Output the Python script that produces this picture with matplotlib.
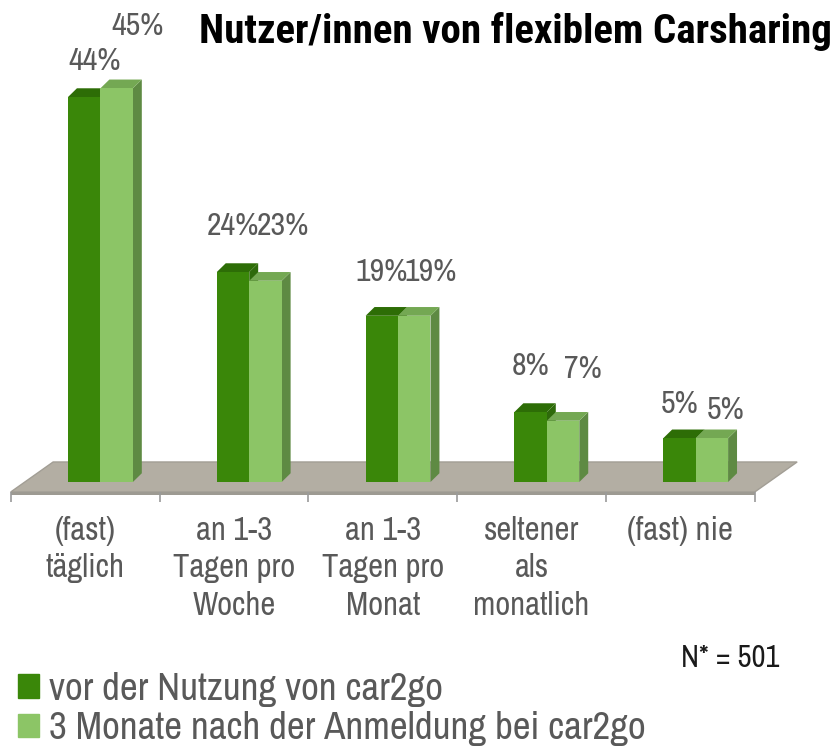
import numpy as np
import matplotlib.pyplot as plt
from matplotlib.patches import Polygon, Patch

categories = ['(fast)\ntäglich', 'an 1-3\nTagen pro\nWoche', 'an 1-3\nTagen pro\nMonat',
              'seltener\nals\nmonatlich', '(fast) nie']
before = [44, 24, 19, 8, 5]
after = [45, 23, 19, 7, 5]
series = ['vor der Nutzung von car2go', '3 Monate nach der Anmeldung bei car2go']

# nudges for the value labels (category units / percent points)
lab_dx_before = [0.07, 0, 0, 0, 0]
lab_dy_before = [4.1, 5.3, 5.0, 5.3, 3.9]
lab_dx_after = [0.14, 0.12, 0.11, 0.13, 0.09]
lab_dy_after = [7.1, 6.3, 5.0, 5.9, 3.2]

plt.rcParams['font.family'] = ['Archivo Narrow', 'Roboto Condensed', 'DejaVu Sans']

fig = plt.figure(figsize=(8.4, 7.48), dpi=100)
ax = fig.add_axes([0, 0, 1, 1])
ax.set_xlim(-0.072, 5.573)
ax.set_ylim(-30.4, 55.09)
ax.axis('off')

n = len(categories)
x = np.arange(n)
off, w = 0.385, 0.218      # bar offset inside a category, bar width
ddx, ddy = 0.06, 1.0       # bar depth
fdx, fdy = 0.285, 3.43     # floor depth
yf = -1.14                 # front edge of the floor

# floor
ax.add_patch(Polygon([(0, yf), (n, yf), (n + fdx, yf + fdy), (fdx, yf + fdy)],
                     closed=True, fc='#b3aea3', ec='#a29e95', lw=1))
ax.add_patch(Polygon([(0, yf), (n, yf), (n, yf - 0.35), (0, yf - 0.35)],
                     closed=True, fc='#9d9a92', ec='none'))
ax.vlines(np.arange(n + 1), yf - 1.1, yf, color='#9a9a9a', lw=1.2)


def faces(x0, h, top, side):
    ax.add_patch(Polygon([(x0 + w, 0), (x0 + w + ddx, ddy), (x0 + w + ddx, h + ddy), (x0 + w, h)],
                         closed=True, fc=side, ec='none'))
    ax.add_patch(Polygon([(x0, h), (x0 + w, h), (x0 + w + ddx, h + ddy), (x0 + ddx, h + ddy)],
                         closed=True, fc=top, ec='none'))


c_dark, c_light = '#3a8709', '#8cc566'
for xi, v in zip(x + off, before):
    faces(xi, v, '#2d6d06', '#2e6a0b')
ax.bar(x + off, before, width=w, align='edge', color=c_dark, lw=0)
for xi, v in zip(x + off + w, after):
    faces(xi, v, '#74a853', '#5e8a43')
ax.bar(x + off + w, after, width=w, align='edge', color=c_light, lw=0)

for i in range(n):
    ax.text(x[i] + off + w / 2 + lab_dx_before[i], before[i] + lab_dy_before[i], '%d%%' % before[i],
            ha='center', va='center', fontsize=23, color='#595959')
    ax.text(x[i] + off + 1.5 * w + lab_dx_after[i], after[i] + lab_dy_after[i], '%d%%' % after[i],
            ha='center', va='center', fontsize=23, color='#595959')
    ax.text(x[i] + 0.5, -3.9, categories[i], ha='center', va='top', fontsize=23.5,
            color='#595959', linespacing=1.3)

fig.text(0.99, 0.958, 'Nutzer/innen von flexiblem Carsharing', ha='right', va='center',
         fontsize=29.5, fontweight='bold', color='black',
         family=['Roboto Condensed', 'DejaVu Sans'])
fig.text(0.869, 0.12, 'N* = 501', ha='center', va='center', fontsize=22, color='#1a1a1a')

handles = [Patch(color=c_dark), Patch(color=c_light)]
leg = fig.legend(handles, series, loc='upper left', bbox_to_anchor=(0.021, 0.102),
                 frameon=False, fontsize=28, handlelength=0.55, handleheight=0.55,
                 handletextpad=0.25, labelspacing=0.12, borderpad=0, borderaxespad=0)
for t in leg.get_texts():
    t.set_color('#595959')

plt.savefig('out.png', dpi=100)
